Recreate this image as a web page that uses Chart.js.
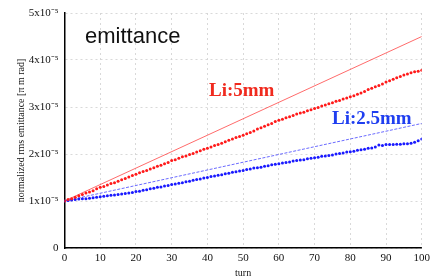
<!DOCTYPE html>
<html><head><meta charset="utf-8">
<script src="https://cdn.jsdelivr.net/npm/chart.js@4/dist/chart.umd.min.js"></script>
<style>html,body{margin:0;padding:0;background:#fff}#wrap{width:434px;height:279px}</style>
</head><body><div id="wrap"><canvas id="c" width="434" height="279"></canvas></div>
<script>
const turns = Array.from({length:101},(_,i)=>i);
const li5mm = [1.00,1.03,1.05,1.08,1.11,1.14,1.17,1.19,1.22,1.26,1.29,
 1.31,1.34,1.37,1.39,1.42,1.45,1.48,1.51,1.54,1.57,
 1.60,1.63,1.65,1.68,1.71,1.74,1.76,1.79,1.82,1.86,
 1.88,1.91,1.94,1.96,1.99,2.01,2.04,2.07,2.10,2.12,
 2.15,2.18,2.20,2.23,2.26,2.29,2.32,2.35,2.37,2.40,
 2.43,2.46,2.49,2.53,2.56,2.59,2.62,2.65,2.69,2.72,
 2.74,2.77,2.79,2.82,2.85,2.87,2.89,2.92,2.94,2.97,
 2.99,3.02,3.04,3.07,3.09,3.12,3.14,3.17,3.19,3.22,
 3.24,3.27,3.30,3.33,3.37,3.40,3.43,3.46,3.49,3.53,
 3.56,3.59,3.62,3.65,3.68,3.70,3.73,3.75,3.76,3.78];
const li25mm = [1.00,1.01,1.02,1.03,1.04,1.05,1.05,1.06,1.07,1.08,1.09,
 1.10,1.11,1.12,1.13,1.14,1.15,1.16,1.17,1.18,1.20,
 1.21,1.23,1.24,1.26,1.27,1.29,1.30,1.32,1.33,1.35,
 1.36,1.38,1.39,1.41,1.42,1.44,1.46,1.47,1.49,1.50,
 1.52,1.53,1.55,1.56,1.58,1.59,1.61,1.62,1.64,1.65,
 1.67,1.68,1.70,1.71,1.72,1.74,1.75,1.77,1.78,1.79,
 1.81,1.82,1.83,1.85,1.86,1.87,1.88,1.90,1.91,1.92,
 1.93,1.95,1.96,1.97,1.98,2.00,2.01,2.02,2.04,2.05,
 2.06,2.08,2.09,2.10,2.12,2.13,2.15,2.19,2.18,2.20,
 2.20,2.20,2.21,2.21,2.22,2.22,2.23,2.25,2.28,2.32];
const lineTurns = [0,100];
const li5mmLine = [1.0,4.5];
const li25mmLine = [1.0,2.65];
const yTicks = [0,1,2,3,4,5];
const yTickLabels = ['0','1x10⁻⁵','2x10⁻⁵','3x10⁻⁵','4x10⁻⁵','5x10⁻⁵'];
const xTicks = [0,10,20,30,40,50,60,70,80,90,100];
const title = 'emittance';
const label5 = 'Li:5mm';
const label25 = 'Li:2.5mm';

const pts = (xs,ys)=>xs.map((x,i)=>({x:x,y:ys[i]}));

const textPlugin = {
  id:'texts',
  afterDatasetsDraw(chart){
    const ctx = chart.ctx;
    ctx.save();
    ctx.textBaseline='alphabetic';
    ctx.textAlign='left';
    ctx.fillStyle='#111';
    ctx.font='22px "Liberation Sans", Arial, sans-serif';
    ctx.fillText(title,85,43);
    ctx.font='bold 19px "Liberation Serif", serif';
    ctx.fillStyle='#f02a1e';
    ctx.fillText(label5,209,96);
    ctx.fillStyle='#1f3ef0';
    ctx.fillText(label25,332,124);
    ctx.restore();
  }
};

new Chart(document.getElementById('c'),{
  type:'scatter',
  data:{datasets:[
    {data:pts(lineTurns,li5mmLine),showLine:true,borderColor:'rgba(255,60,60,0.85)',borderWidth:0.9,pointRadius:0,order:3},
    {data:pts(lineTurns,li25mmLine),showLine:true,borderColor:'rgba(60,60,255,0.85)',borderWidth:0.9,borderDash:[3,1.5],pointRadius:0,order:3},
    {data:pts(turns,li5mm),showLine:false,backgroundColor:'#ff1a1a',borderColor:'#ff1a1a',pointRadius:1.5,pointBorderWidth:0,order:1},
    {data:pts(turns,li25mm),showLine:false,backgroundColor:'#1a1aff',borderColor:'#1a1aff',pointRadius:1.5,pointBorderWidth:0,order:1}
  ]},
  options:{
    responsive:false,animation:false,
    layout:{padding:{top:13,right:9,left:0,bottom:0}},
    plugins:{legend:{display:false},tooltip:{enabled:false}},
    scales:{
      x:{type:'linear',min:0,max:100,
        afterBuildTicks(a){a.ticks=xTicks.map(v=>({value:v}));},
        afterFit(a){a.height=31;},
        grid:{color:'#cfcfcf',drawTicks:false,lineWidth:0.8},
        border:{display:true,color:'#000',width:1.5,dash:[2,3]},
        ticks:{color:'#111',font:{family:'"Liberation Serif", serif',size:11},padding:4,maxRotation:0},
        title:{display:true,text:'turn',color:'#111',font:{family:'"Liberation Serif", serif',size:10},padding:{top:0,bottom:0}}
      },
      y:{type:'linear',min:0,max:5,
        afterBuildTicks(a){a.ticks=yTicks.map(v=>({value:v}));},
        afterFit(a){a.width=64.5;},
        grid:{color:'#cfcfcf',drawTicks:false,lineWidth:0.8},
        border:{display:true,color:'#000',width:1.5,dash:[2,3]},
        ticks:{color:'#111',font:{family:'"Liberation Serif", serif',size:11},padding:6,
          callback:(v)=>yTickLabels[yTicks.indexOf(v)]},
        title:{display:true,text:'normalized rms emittance [π m rad]',color:'#111',font:{family:'"Liberation Serif", serif',size:10},padding:{top:15,bottom:2}}
      }
    }
  },
  plugins:[textPlugin]
});
</script></body></html>
